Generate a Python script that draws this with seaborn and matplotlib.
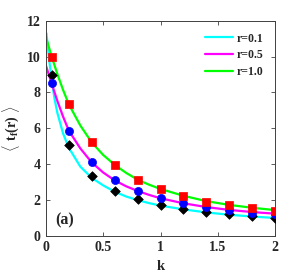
import numpy as np
import pandas as pd
import matplotlib
matplotlib.use('Agg')
import matplotlib.pyplot as plt
import seaborn as sns

# ── datos ──────────────────────────────────────────────────────
k_cyan = [0.005, 0.025, 0.05, 0.075, 0.1, 0.15, 0.2, 0.3, 0.4, 0.5, 0.6, 0.7,
          0.8, 0.9, 1.0, 1.2, 1.4, 1.6, 1.8, 2.0]
t_cyan = [11.3, 10.0, 8.7, 7.65, 6.85, 5.7, 4.9, 3.85, 3.22, 2.8, 2.45, 2.18,
          1.98, 1.81, 1.67, 1.46, 1.29, 1.16, 1.06, 0.98]

k_curve = [0.0, 0.05, 0.1, 0.15, 0.2, 0.3, 0.4, 0.5, 0.6, 0.7, 0.8, 0.9,
           1.0, 1.2, 1.4, 1.6, 1.8, 2.0]
t_magenta = [9.5, 8.5, 7.52, 6.64, 5.86, 4.87, 4.08, 3.52, 3.08, 2.75, 2.49, 2.27,
             2.08, 1.8, 1.59, 1.43, 1.31, 1.22]
t_green = [11.1, 10.0, 9.02, 8.13, 7.33, 6.15, 5.2, 4.5, 3.95, 3.5, 3.12, 2.84,
           2.6, 2.22, 1.92, 1.71, 1.55, 1.42]

k_sim = [0.05, 0.2, 0.4, 0.6, 0.8, 1.0, 1.2, 1.4, 1.6, 1.8, 2.0]
sim_black = [8.97, 5.07, 3.33, 2.5, 2.02, 1.71, 1.5, 1.31, 1.18, 1.08, 1.0]
sim_blue = [8.5, 5.86, 4.08, 3.08, 2.49, 2.08, 1.8, 1.61, 1.42, 1.28, 1.22]
sim_red = [10.0, 7.33, 5.2, 3.95, 3.12, 2.6, 2.22, 1.9, 1.72, 1.54, 1.39]

labels = ['r=0.1', 'r=0.5', 'r=1.0']

df_lines = pd.concat([
    pd.DataFrame({'k': k_cyan, 't': t_cyan, 'r': labels[0]}),
    pd.DataFrame({'k': k_curve, 't': t_magenta, 'r': labels[1]}),
    pd.DataFrame({'k': k_curve, 't': t_green, 'r': labels[2]}),
], ignore_index=True)

sns.set_style('ticks')
plt.rcParams['font.family'] = ['Liberation Serif', 'DejaVu Serif']
plt.rcParams['font.weight'] = 'bold'
plt.rcParams['mathtext.fontset'] = 'custom'
plt.rcParams['mathtext.rm'] = 'Liberation Serif'
plt.rcParams['mathtext.bf'] = 'Liberation Serif:bold'

fig = plt.figure(figsize=(3.04, 2.75), dpi=100)
ax = fig.add_axes([0.151, 0.1436, 0.754, 0.781])

sns.lineplot(data=df_lines, x='k', y='t', hue='r',
             palette=['#00ffff', '#ff00ff', '#00ff00'], linewidth=1.6,
             sort=False, ax=ax)

sns.scatterplot(x=k_sim, y=sim_black, marker='D', color='black', s=24,
                edgecolor='black', linewidth=0.5, ax=ax, legend=False, zorder=3)
sns.scatterplot(x=k_sim, y=sim_blue, marker='o', color='blue', s=34,
                edgecolor='blue', linewidth=0.5, ax=ax, legend=False, zorder=3)
sns.scatterplot(x=k_sim, y=sim_red, marker='s', color='red', s=26,
                edgecolor='red', linewidth=0.5, ax=ax, legend=False, zorder=3)

ax.set_xlim(0, 2)
ax.set_ylim(0, 12)
ax.set_xticks([0, 0.5, 1, 1.5, 2])
ax.set_xticklabels(['0', '0.5', '1', '1.5', '2'])
ax.set_yticks([0, 2, 4, 6, 8, 10, 12])
ax.tick_params(direction='in', length=3, width=0.6, top=True, right=True,
               labelsize=10, pad=4, color='#404040')
for lab in ax.get_xticklabels() + ax.get_yticklabels():
    lab.set_fontweight('bold')
for s in ax.spines.values():
    s.set_linewidth(0.7)
    s.set_color('#404040')
    s.set_visible(True)

ax.set_xlabel('k', fontsize=10.5, fontweight='bold', labelpad=4)
ax.set_ylabel(r'$\langle\ \mathbf{t_f(r)}\ \rangle$', fontsize=10, labelpad=3)

ax.text(0.08, 0.85, '(a)', fontsize=11.5, fontweight='bold', va='center', ha='left')

leg = ax.legend(loc='upper right', frameon=False,
                prop={'size': 8.5, 'weight': 'bold'},
                handlelength=2.4, handletextpad=0.3, labelspacing=0.4,
                borderaxespad=0.6)

fig.savefig('out.png', dpi=100)
